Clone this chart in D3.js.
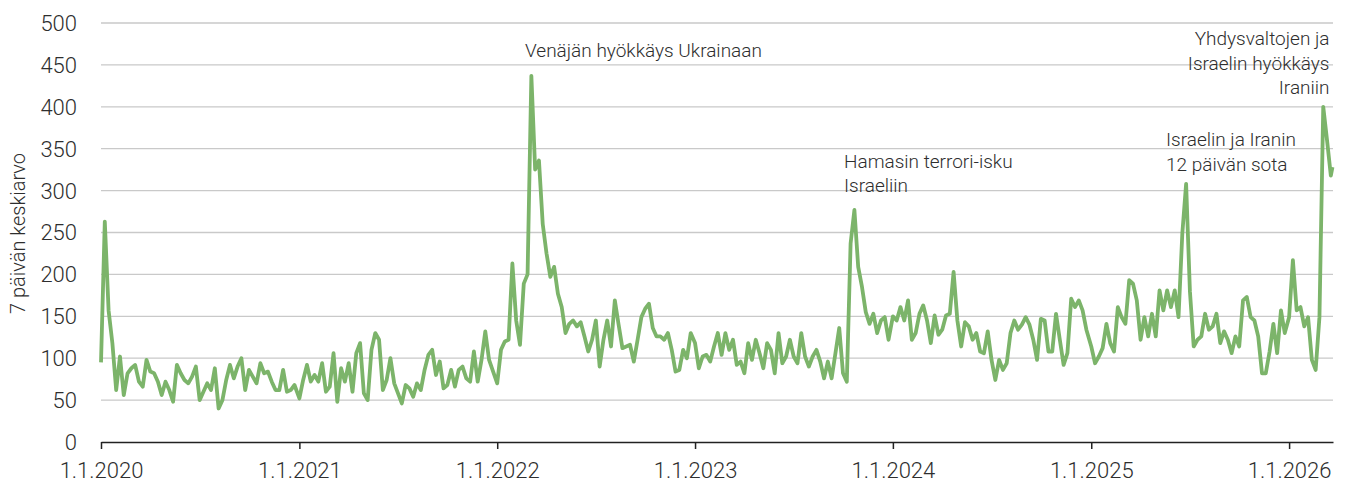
<!DOCTYPE html>
<html>
<head>
<meta charset="utf-8">
<script src="https://cdn.jsdelivr.net/npm/d3@7"></script>
<style>
  html, body { margin: 0; padding: 0; background: #fff; }
  svg text { font-family: Roboto, "Noto Sans", sans-serif; font-weight: 300; fill: #2e2e2e; }
</style>
</head>
<body>
<div id="content"></div>
<script>
// weekly readings of the 7-day average, one array per year (week 0 = 1.1.)
var v2020 = [95, 263, 157, 118, 62, 102, 56, 82, 88, 92, 72, 66, 98, 84, 82, 72, 56, 72, 62, 48,
             92, 82, 74, 70, 78, 90, 50, 60, 70, 62, 88, 40, 50, 74, 92, 76, 90, 100, 62, 86,
             78, 70, 94, 82, 84, 72, 62, 62, 86, 60, 62, 68];
var v2021 = [52, 74, 92, 72, 80, 72, 94, 60, 66, 106, 48, 88, 72, 94, 60, 106, 118, 58, 50, 110,
             130, 122, 62, 74, 100, 70, 58, 46, 68, 64, 54, 70, 62, 86, 104, 110, 80, 96, 64, 68,
             86, 66, 86, 90, 76, 72, 108, 72, 98, 132, 98, 85];
var v2022 = [70, 110, 120, 122, 213, 145, 116, 189, 200, 437, 325, 336, 260, 225, 197, 209, 177, 161, 130, 141,
             145, 138, 143, 126, 108, 122, 145, 90, 122, 145, 114, 169, 140, 112, 114, 116, 96, 122, 149, 159,
             165, 136, 126, 126, 122, 130, 110, 84, 86, 110, 100, 130];
var v2023 = [118, 88, 102, 104, 96, 114, 130, 104, 130, 110, 122, 92, 96, 82, 118, 98, 122, 106, 88, 118,
             110, 82, 130, 94, 102, 122, 102, 94, 130, 102, 90, 102, 110, 96, 76, 96, 76, 106, 136, 82,
             72, 237, 277, 209, 185, 155, 141, 153, 130, 145, 149, 122];
var v2024 = [150, 145, 161, 145, 169, 122, 130, 153, 163, 145, 118, 151, 128, 134, 151, 153, 203, 145, 114, 143,
             138, 122, 130, 108, 106, 132, 98, 74, 98, 86, 94, 130, 145, 134, 140, 149, 140, 122, 98, 147,
             145, 108, 108, 153, 122, 92, 106, 171, 161, 169, 157, 134];
var v2025 = [114, 94, 102, 112, 141, 118, 108, 161, 149, 141, 193, 189, 169, 122, 149, 126, 153, 126, 181, 157,
             181, 161, 181, 149, 249, 308, 180, 114, 122, 126, 153, 134, 138, 153, 118, 132, 122, 106, 126, 114,
             169, 173, 149, 145, 126, 82, 82, 108, 141, 106, 157, 130];
var v2026 = [149, 217, 157, 161, 138, 149, 98, 86, 149, 400, 360, 318];
var lastDay = new Date(2026, 2, 22);
var lastValue = 328;

var yTicks = [0, 50, 100, 150, 200, 250, 300, 350, 400, 450, 500];
var xTickYears = [2020, 2021, 2022, 2023, 2024, 2025, 2026];
var yTitle = '7 päivän keskiarvo';

var chartW = 1346, chartH = 487;
var padL = 101, padR = 1333, padT = 23, padB = 442;

var svg = d3.select('#content').append('svg')
  .attr('width', chartW)
  .attr('height', chartH);

var x = d3.scaleTime()
  .domain([new Date(2020, 0, 1), new Date(2026, 2, 23)])
  .range([padL, padR]);
var y = d3.scaleLinear().domain([0, 500]).range([padB, padT]);

// gridlines
svg.append('g').selectAll('line')
  .data(yTicks.filter(function(d){ return d > 0; }))
  .enter().append('line')
  .attr('x1', padL).attr('x2', padR)
  .attr('y1', function(d){ return y(d); })
  .attr('y2', function(d){ return y(d); })
  .attr('stroke', '#c9c9c9')
  .attr('stroke-width', 1.3);

// y tick labels
svg.append('g').selectAll('text')
  .data(yTicks)
  .enter().append('text')
  .attr('x', 77)
  .attr('y', function(d){ return y(d); })
  .attr('dy', '0.36em')
  .attr('text-anchor', 'end')
  .style('font-size', '22px')
  .text(function(d){ return d; });

svg.append('text')
  .attr('transform', 'translate(25,' + ((padT + padB) / 2 + 1) + ') rotate(-90)')
  .attr('text-anchor', 'middle')
  .style('font-size', '20px')
  .text(yTitle);

// x axis
var xAxis = d3.axisBottom(x)
  .tickValues(xTickYears.map(function(yr){ return new Date(yr, 0, 1); }))
  .tickFormat(function(d){ return '1.1.' + d.getFullYear(); })
  .tickSize(7)
  .tickSizeOuter(0)
  .tickPadding(13);

var gx = svg.append('g')
  .attr('transform', 'translate(0,' + padB + ')')
  .call(xAxis);
gx.select('.domain').attr('stroke', '#222').attr('stroke-width', 1.5);
gx.selectAll('.tick line').attr('stroke', '#222').attr('stroke-width', 1.5);
gx.selectAll('.tick text')
  .style('font-size', '22px')
  .style('font-family', 'Roboto, "Noto Sans", sans-serif')
  .style('font-weight', 300)
  .attr('fill', '#2e2e2e');

// data points
var series = [];
[[2020, v2020], [2021, v2021], [2022, v2022], [2023, v2023], [2024, v2024], [2025, v2025], [2026, v2026]]
  .forEach(function(p){
    p[1].forEach(function(v, i){
      series.push({ date: new Date(p[0], 0, 1 + 7 * i), value: v });
    });
  });
series.push({ date: lastDay, value: lastValue });

var line = d3.line()
  .x(function(d){ return x(d.date); })
  .y(function(d){ return y(d.value); });

svg.append('path')
  .datum(series)
  .attr('d', line)
  .attr('fill', 'none')
  .attr('stroke', '#7cb46a')
  .attr('stroke-width', 3.8)
  .attr('stroke-linejoin', 'round');

// annotations
function note(lines, px, py, anchor){
  var t = svg.append('text')
    .attr('text-anchor', anchor)
    .style('font-size', '19px');
  lines.forEach(function(s, i){
    t.append('tspan').attr('x', px).attr('y', py + i * 24.5).text(s);
  });
}
note(['Venäjän hyökkäys Ukrainaan'], 525, 57, 'start');
note(['Hamasin terrori-isku', 'Israeliin'], 844, 167.5, 'start');
note(['Israelin ja Iranin', '12 päivän sota'], 1166, 146, 'start');
note(['Yhdysvaltojen ja', 'Israelin hyökkäys', 'Iraniin'], 1329.5, 45, 'end');
</script>
</body>
</html>
